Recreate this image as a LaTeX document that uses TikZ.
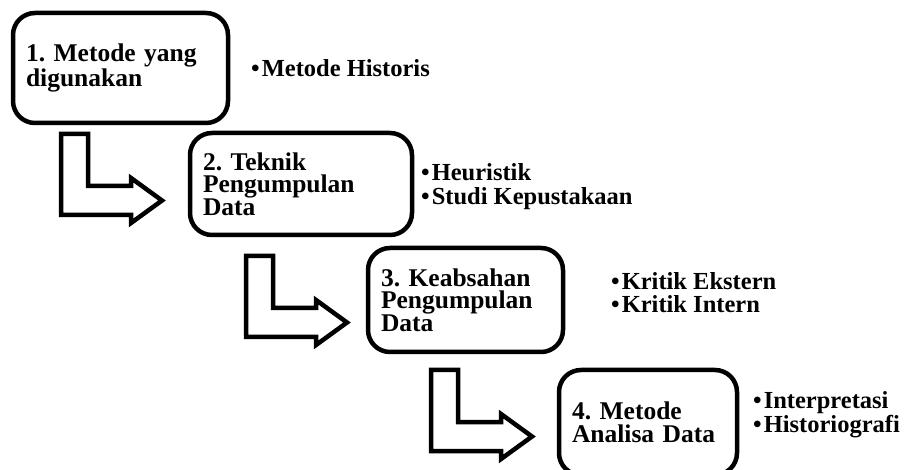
\documentclass[tikz,border=0pt]{standalone}
\usepackage{fontspec}
\setmainfont{Liberation Serif}
\frenchspacing
\usetikzlibrary{positioning}

\begin{document}
\begin{tikzpicture}[x=1pt,y=-1pt,
		stepbox/.style={draw,line width=4.5pt,rounded corners=22pt,inner xsep=13pt,align=left,
			font=\fontsize{25.5}{22.5}\selectfont\bfseries},
		itemtext/.style={anchor=base west,inner sep=0pt,font=\fontsize{24.5}{24}\selectfont\bfseries},
		larrow/.style={draw,line width=4.5pt,line join=miter}]
		\useasboundingbox (0,0) rectangle (908,470);
		
		% the four steps as rounded boxes
		\node[stepbox,text width=189pt,minimum height=110pt] (s1) at (120.5,68) {1. Metode yang\\digunakan};
		\node[stepbox,text width=196pt,minimum height=102pt] (s2) at (301,184) {2. Teknik\\Pengumpulan\\Data};
		\node[stepbox,text width=169pt,minimum height=104pt] (s3) at (465.5,300) {3. Keabsahan\\Pengumpulan\\Data};
		\node[stepbox,text width=152pt,minimum height=105pt] (s4) at (648,422.5) {4. Metode\\Analisa Data};
		
		% L-shaped block arrows between the steps
		\foreach \ax/\ay in {61/134,246/256,431/370} {
			\draw[larrow] (\ax,\ay) -- ++(27,0) -- ++(0,52) -- ++(43,0) -- ++(0,-8)
				-- ++(31,22.5) -- ++(-31,22.5) -- ++(0,-8) -- ++(-70,0) -- cycle;
		}
		
		% bullet points next to each step
		\foreach \name/\px/\py/\txt in {m1/251/77/Metode Historis,
			h1/421/181/Heuristik,h2/421/205/Studi Kepustakaan,
			k1/611/290/Kritik Ekstern,k2/611/313/Kritik Intern,
			i1/753/409/Interpretasi,i2/753/432/Historiografi} {
			\node[itemtext] (\name) at (\px,\py) {\textbullet\hspace{2pt}\txt};
		}
\end{tikzpicture}
\end{document}
